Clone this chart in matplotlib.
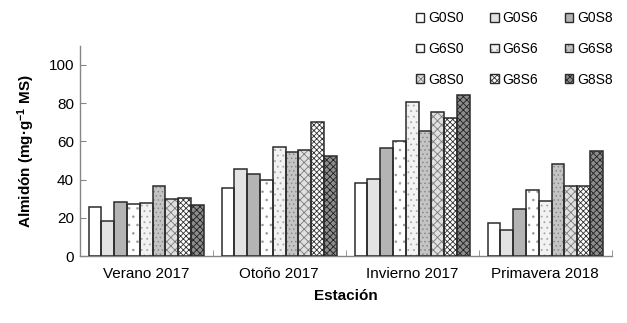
import matplotlib
matplotlib.use("Agg")
import matplotlib.pyplot as plt
import numpy as np
from matplotlib.patches import Patch
from matplotlib.legend_handler import HandlerTuple

plt.rcParams['font.family'] = ['Liberation Sans', 'DejaVu Sans']
plt.rcParams['font.size'] = 10
plt.rcParams['mathtext.fontset'] = 'custom'
plt.rcParams['mathtext.bf'] = 'Liberation Sans:bold'
plt.rcParams['mathtext.rm'] = 'Liberation Sans'
plt.rcParams['mathtext.default'] = 'bf'
plt.rcParams['hatch.linewidth'] = 0.6

# data
estaciones = ["Verano 2017", "Otoño 2017", "Invierno 2017", "Primavera 2018"]
tratamientos = ["G0S0", "G0S6", "G0S8", "G6S0", "G6S6", "G6S8", "G8S0", "G8S6", "G8S8"]
g0s0 = [25.9, 35.6, 38.0, 17.5]
g0s6 = [18.1, 45.4, 40.4, 13.7]
g0s8 = [28.2, 43.0, 56.5, 24.5]
g6s0 = [27.2, 39.8, 60.3, 34.4]
g6s6 = [27.5, 56.8, 80.5, 29.0]
g6s8 = [36.8, 54.6, 65.4, 48.0]
g8s0 = [29.6, 55.6, 75.6, 36.5]
g8s6 = [30.3, 70.0, 72.5, 36.5]
g8s8 = [26.7, 52.4, 84.4, 54.9]
series = [g0s0, g0s6, g0s8, g6s0, g6s6, g6s8, g8s0, g8s6, g8s8]

# fill colour, hatch, hatch colour for each treatment
estilos = [
    ('white', None, 'white'),
    ('#e3e3e3', None, '#e3e3e3'),
    ('#b4b4b4', None, '#b4b4b4'),
    ('white', '..', '#9a9a9a'),
    ('#f2f2f2', '...', '#a8a8a8'),
    ('#c4c4c4', '....', '#8a8a8a'),
    ('#e0e0e0', 'xxxx', '#7a7a7a'),
    ('white', 'xxxxxx', '#303030'),
    ('#8c8c8c', 'xxxxx', '#202020'),
]
borde = '#2b2b2b'

fig = plt.figure(figsize=(6.27, 3.23), dpi=100)
ax = fig.add_axes([0.127, 0.2074, 0.8486, 0.6506])

x = np.arange(len(estaciones))
ancho = 0.0962
handles = []
for i, (vals, (fc, hatch, hc)) in enumerate(zip(series, estilos)):
    pos = x + (i - 4) * ancho
    ax.bar(pos, vals, ancho, color=fc, hatch=hatch, edgecolor=hc, linewidth=0, zorder=2)
    ax.bar(pos, vals, ancho, fill=False, edgecolor=borde, linewidth=1.1, zorder=3)
    h1 = Patch(facecolor=fc, hatch=hatch, edgecolor=hc, linewidth=0)
    h2 = Patch(fill=False, edgecolor=borde, linewidth=1.0)
    handles.append((h1, h2))

ax.set_xlim(-0.5, 3.5)
ax.set_ylim(0, 110)
ax.set_yticks([0, 20, 40, 60, 80, 100])
ax.set_xticks(x)
ax.set_xticklabels(estaciones)
ax.set_xticks(np.arange(-0.5, 4, 1), minor=True)
ax.tick_params(axis='x', which='major', length=0, pad=8, labelsize=11)
ax.tick_params(axis='x', which='minor', direction='in', length=4, color='#868686')
ax.tick_params(axis='y', direction='in', length=4, color='#868686', labelsize=11, pad=4)

for s in ['top', 'right']:
    ax.spines[s].set_visible(False)
for s in ['left', 'bottom']:
    ax.spines[s].set_color('#868686')
    ax.spines[s].set_linewidth(1.0)

ax.set_xlabel("Estación", fontweight='bold', fontsize=11, labelpad=6)
ax.set_ylabel("Almidón (mg·g$^{-1}$ MS)", fontweight='bold', fontsize=11, labelpad=8)

# legend is filled column by column, so reorder to read row by row
orden = [0, 3, 6, 1, 4, 7, 2, 5, 8]
fig.legend([handles[k] for k in orden], [tratamientos[k] for k in orden],
           ncol=3, loc='upper left',
           bbox_to_anchor=(0.663, 0.965), frameon=False,
           handlelength=0.6, handleheight=0.6, handletextpad=0.3,
           columnspacing=1.9, labelspacing=1.2, borderpad=0, borderaxespad=0,
           fontsize=10, handler_map={tuple: HandlerTuple(ndivide=1)})

fig.savefig("out.png", dpi=100)
